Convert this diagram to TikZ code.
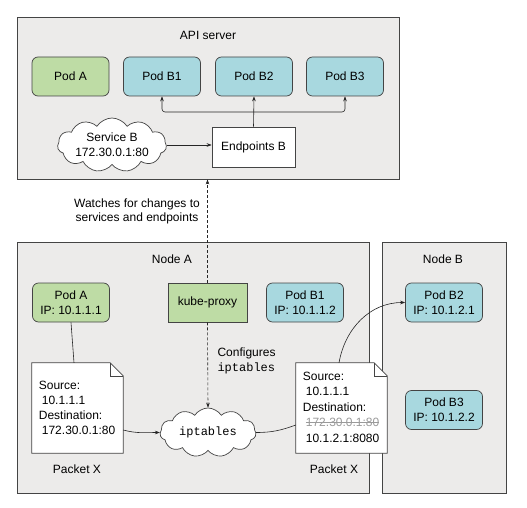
\documentclass[tikz,border=0pt]{standalone}
\usepackage{fontspec}
\setmainfont{Liberation Sans}
\setmonofont{Liberation Mono}
\usetikzlibrary{shapes.symbols,arrows.meta,calc}
\definecolor{podgreen}{HTML}{BEDCA5}
\definecolor{podblue}{HTML}{A8D8DF}
\definecolor{panel}{HTML}{ECEBEA}
\definecolor{edge}{HTML}{444444}
\definecolor{struck}{HTML}{9A9A9A}
\newsavebox\mystrkbox
\newcommand\mystrike[1]{\sbox\mystrkbox{#1}\rlap{\usebox\mystrkbox}\rule[0.33em]{\wd\mystrkbox}{0.6pt}}
\begin{document}
\begin{tikzpicture}[x=1pt,y=1pt,
  font=\fontsize{12}{15.3}\selectfont,
  panelbox/.style={draw=edge,line width=0.9pt,fill=panel,inner sep=0pt},
  podbox/.style={draw=edge,line width=0.7pt,rounded corners=6pt,minimum width=77pt,minimum height=39pt,inner sep=0pt,align=center},
  greenpod/.style={podbox,fill=podgreen},
  bluepod/.style={podbox,fill=podblue},
  cloudnode/.style={cloud,cloud puffs=11,cloud puff arc=115,cloud ignores aspect,draw=edge,fill=white,line width=0.7pt,inner sep=0pt,align=center},
  docframe/.style={minimum width=91pt,minimum height=90pt,inner sep=0pt},
  docline/.style={draw=edge,line width=0.7pt},
  arr/.style={-{Stealth[length=5pt,width=3.6pt]},line width=0.6pt,draw=black!85},
  dashedarr/.style={arr,dash pattern=on 3pt off 2pt},
  plainline/.style={line width=0.6pt,draw=black!85}]
\useasboundingbox (0,0) rectangle (527,-508);
% panels
\node[panelbox,minimum width=382pt,minimum height=162pt] (api) at (208,-98) {};
\node[panelbox,minimum width=352pt,minimum height=251pt] (nodeA) at (193,-367.5) {};
\node[panelbox,minimum width=124pt,minimum height=251pt] (nodeB) at (444,-367.5) {};
\node (apilabel) at (208,-35) {API server};
\node (nodeAlabel) at (172,-259) {Node A};
\node (nodeBlabel) at (443,-259) {Node B};
% API server content
\node[greenpod] (podA) at (70.5,-76.5) {Pod A};
\node[bluepod] (podB1) at (162,-76.5) {Pod B1};
\node[bluepod] (podB2) at (254,-76.5) {Pod B2};
\node[bluepod] (podB3) at (345,-76.5) {Pod B3};
\node[draw=edge,line width=0.7pt,fill=white,minimum width=83pt,minimum height=40pt,inner sep=0pt] (ep) at (253.5,-147) {Endpoints B};
\node[cloudnode,minimum width=109pt,minimum height=54pt] (svc) at (112,-145) {Service B\\172.30.0.1:80};
\coordinate (fork) at (253.5,-112);
% label
\node[align=center,font=\fontsize{12}{14}\selectfont] (watch) at (137,-211) {Watches for changes to\\services and endpoints};
% Node A content
\node[greenpod] (podAn) at (71,-302.5) {Pod A\\IP: 10.1.1.1};
\node[podbox,rounded corners=0pt,fill=podgreen,minimum width=79pt] (kube) at (207.5,-302.5) {kube-proxy};
\node[bluepod] (podB1n) at (305,-302.5) {Pod B1\\IP: 10.1.1.2};
\node[bluepod] (podB2n) at (444,-302.5) {Pod B2\\IP: 10.1.2.1};
\node[bluepod] (podB3n) at (444,-410) {Pod B3\\IP: 10.1.2.2};
\node[anchor=west,align=left,font=\fontsize{12}{15}\selectfont] (conf) at (214,-360.5) {Configures\\\texttt{iptables}};
\node[cloudnode,minimum width=96pt,minimum height=49pt] (ipt) at (208,-432.5) {\texttt{iptables}};
% documents
\node[docframe] (docL) at (77.5,-408) {};
\draw[docline,fill=white] (docL.south west) -- (docL.north west) -- ([xshift=-13pt]docL.north east) -- ([yshift=-13pt]docL.north east) -- (docL.south east) -- cycle;
\draw[docline,line width=0.5pt] ([xshift=-13pt]docL.north east) -- ([xshift=-13pt,yshift=-13pt]docL.north east) -- ([yshift=-13pt]docL.north east);
\node[anchor=west,align=left,inner sep=0pt,font=\fontsize{12}{15}\selectfont] (docLtext) at (38.7,-408) {Source:\\\hspace{3pt}10.1.1.1\\Destination:\\\hspace{3pt}172.30.0.1:80};
\node[docframe] (docR) at (341.5,-408) {};
\draw[docline,fill=white] (docR.south west) -- (docR.north west) -- ([xshift=-13pt]docR.north east) -- ([yshift=-13pt]docR.north east) -- (docR.south east) -- cycle;
\draw[docline,line width=0.5pt] ([xshift=-13pt]docR.north east) -- ([xshift=-13pt,yshift=-13pt]docR.north east) -- ([yshift=-13pt]docR.north east);
\node[anchor=west,align=left,inner sep=0pt,font=\fontsize{12}{15.5}\selectfont] (docRtext) at (302.7,-407) {Source:\\\hspace{3pt}10.1.1.1\\Destination:\\\hspace{3pt}\textcolor{struck}{\mystrike{172.30.0.1:80}}\\\hspace{3pt}10.1.2.1:8080};
\node (pktL) at (77,-469) {Packet X};
\node (pktR) at (334,-469) {Packet X};
% connectors: API server
\draw[arr] (svc.east) -- (svc.east -| ep.west);
\draw[arr] (ep.north) -- (podB2.south);
\draw[arr,rounded corners=3pt] (fork) -| (podB1.south);
\draw[arr,rounded corners=3pt] (fork) -| (podB3.south);
\draw[dashedarr] (kube.north) -- (kube.north |- api.south);
% connectors: Node A / Node B
\draw[dashedarr] (kube.south) -- (ipt.north);
\draw[plainline] (podAn.south) -- ([xshift=-3.5pt]docL.north);
\draw[arr] ([yshift=-22pt]docL.east) to[out=-15,in=180] (ipt.west);
\draw[plainline] (ipt.east) to[out=0,in=200] ([yshift=-17pt]docR.west);
\draw[arr] ([xshift=-2.5pt]docR.north) to[out=80,in=180] (podB2n.west);
\end{tikzpicture}
\end{document}
